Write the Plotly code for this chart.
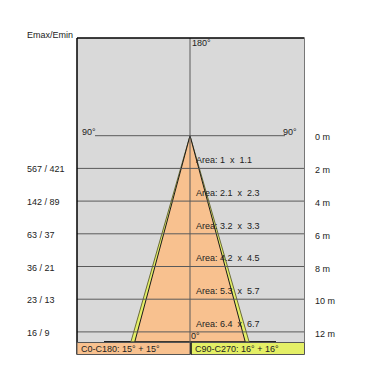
import math
import plotly.graph_objects as go

# ---- data ----
depths_m = [2, 4, 6, 8, 10, 12]
depth_labels = ["2 m", "4 m", "6 m", "8 m", "10 m", "12 m"]
emax_emin = ["567 / 421", "142 / 89", "63 / 37", "36 / 21", "23 / 13", "16 / 9"]
area_a = ["1", "2.1", "3.2", "4.2", "5.3", "6.4"]
area_b = ["1.1", "2.3", "3.3", "4.5", "5.7", "6.7"]
angle_c0 = 15   # C0-C180 half angle
angle_c90 = 16  # C90-C270 half angle
cone_depth = 12.6

# ---- pixel helpers for layout placement ----
S = 16.35
CX, CY = 190.0, 135.7
def X(px):
    return (px - CX) / S
def Y(py):
    return -(py - CY) / S

FONT = "Liberation Sans, Arial, sans-serif"
TXT = "#222222"

fig = go.Figure()

# cones
def cone(angle):
    w = math.tan(math.radians(angle)) * cone_depth
    return [0, -w, w, 0], [0, -cone_depth, -cone_depth, 0]

xs, ys = cone(angle_c90)
fig.add_trace(go.Scatter(x=xs, y=ys, fill="toself", fillcolor="#e4ef66",
                         line=dict(color="#6b6b3a", width=1), mode="lines",
                         hoverinfo="skip", showlegend=False))
xs, ys = cone(angle_c0)
fig.add_trace(go.Scatter(x=xs, y=ys, fill="toself", fillcolor="#f8c18f",
                         line=dict(color="#1a1a1a", width=1), mode="lines",
                         hoverinfo="skip", showlegend=False))

shapes = []
# grey background
shapes.append(dict(type="rect", x0=X(77), x1=X(304.5), y0=Y(38), y1=Y(342.5),
                   fillcolor="#d9d9d9", line=dict(width=0), layer="below"))
# floor line
shapes.append(dict(type="line", x0=X(104), x1=X(276), y0=-cone_depth, y1=-cone_depth,
                   line=dict(color="#222", width=1.2), layer="below"))
# depth lines
for d in depths_m:
    shapes.append(dict(type="line", x0=X(77), x1=X(304.5), y0=-d, y1=-d,
                       line=dict(color="#5a5a5a", width=1), layer="above"))
# 90 deg line
shapes.append(dict(type="line", x0=X(95), x1=X(285), y0=0, y1=0,
                   line=dict(color="#5a5a5a", width=1), layer="above"))
# vertical centre line
shapes.append(dict(type="line", x0=0, x1=0, y0=Y(38), y1=Y(342.5),
                   line=dict(color="#5a5a5a", width=1), layer="above"))
# borders
shapes.append(dict(type="line", x0=X(77), x1=X(304.5), y0=Y(38), y1=Y(38),
                   line=dict(color="#000", width=1.5), layer="above"))
shapes.append(dict(type="line", x0=X(77), x1=X(77), y0=Y(38), y1=Y(354.5),
                   line=dict(color="#000", width=1.5), layer="above"))
shapes.append(dict(type="line", x0=X(304.5), x1=X(304.5), y0=Y(38), y1=Y(342.5),
                   line=dict(color="#777", width=1), layer="above"))
# legend boxes
shapes.append(dict(type="rect", x0=X(77), x1=X(190), y0=Y(342.5), y1=Y(354.5),
                   fillcolor="#f8c18f", line=dict(color="#555", width=1), layer="above"))
shapes.append(dict(type="rect", x0=X(191), x1=X(304.5), y0=Y(342.5), y1=Y(354.5),
                   fillcolor="#e4ef66", line=dict(color="#555", width=1), layer="above"))
# black left edge of right legend box
shapes.append(dict(type="line", x0=X(191), x1=X(191), y0=Y(342.5), y1=Y(354.5),
                   line=dict(color="#000", width=1.2), layer="above"))

ann = []
def text(px, py, s, xanchor="left", size=9):
    ann.append(dict(x=X(px), y=Y(py), text=s, showarrow=False, xanchor=xanchor,
                    yanchor="middle", font=dict(family=FONT, size=size, color=TXT)))

text(25, 35, "Emax/Emin")
text(80, 132, "90°")
text(299, 132, "90°", xanchor="right")
text(313, 137, "0 m")
text(190, 43, "180°")
text(189, 336, "0°")
for d, lab, ee, a, b in zip(depths_m, depth_labels, emax_emin, area_a, area_b):
    py = CY + d * S
    text(313, py + 2, lab)
    text(25, py + 1, ee)
    ann.append(dict(x=X(193.5), y=-(d - 0.5), text=f"Area: {a}\u00a0 x\u00a0 {b}",
                    showarrow=False, xanchor="left", yanchor="middle",
                    font=dict(family=FONT, size=9, color=TXT)))
text(78.5, 349, f"C0-C180: {angle_c0}° + {angle_c0}°")
text(192.5, 349, f"C90-C270: {angle_c90}° + {angle_c90}°")

fig.update_layout(
    width=380, height=380, margin=dict(l=0, r=0, t=0, b=0),
    paper_bgcolor="white", plot_bgcolor="white",
    xaxis=dict(range=[X(0), X(380)], visible=False, fixedrange=True),
    yaxis=dict(range=[Y(380), Y(0)], visible=False, fixedrange=True),
    shapes=shapes, annotations=ann, showlegend=False,
)
fig.write_html("out.html")
